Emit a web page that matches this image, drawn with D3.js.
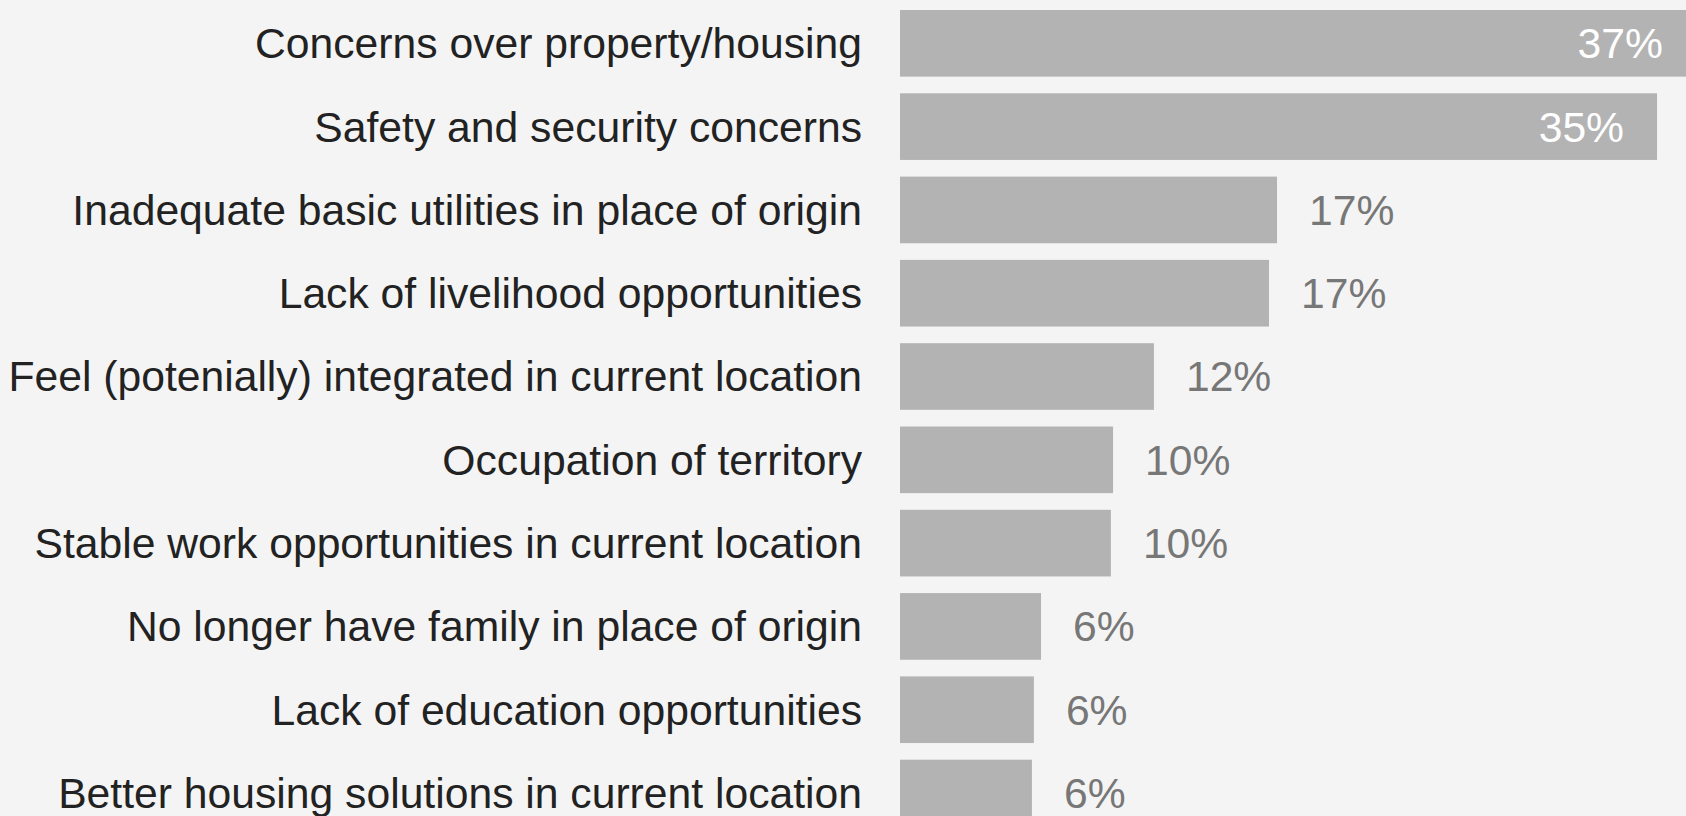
<!DOCTYPE html>
<html><head><meta charset="utf-8">
<script src="https://cdn.jsdelivr.net/npm/d3@7"></script>
<style>
html,body{margin:0;padding:0;background:#f4f4f4;overflow:hidden;}
svg{display:block;}
</style></head>
<body>
<svg id="chart" width="1686" height="816"></svg>
<script>
const categories = [
  "Concerns over property/housing",
  "Safety and security concerns",
  "Inadequate basic utilities in place of origin",
  "Lack of livelihood opportunities",
  "Feel (potenially) integrated in current location",
  "Occupation of territory",
  "Stable work opportunities in current location",
  "No longer have family in place of origin",
  "Lack of education opportunities",
  "Better housing solutions in current location"
];
const values = [36.8, 35, 17.43, 17.06, 11.74, 9.85, 9.75, 6.52, 6.19, 6.10];
const valueLabels = ["37%", "35%", "17%", "17%", "12%", "10%", "10%", "6%", "6%", "6%"];

const W = 1686, H = 816;
const svg = d3.select("#chart");
svg.append("rect").attr("width", W).attr("height", H).attr("fill", "#f4f4f4");

const x = d3.scaleLinear().domain([0, 40]).range([900, 900 + 40 * 21.63]);
const y = d3.scaleBand().domain(categories).range([1.67, 1.67 + 833]).paddingInner(0.2).paddingOuter(0.1);

const data = categories.map((c, i) => ({c, v: values[i], l: valueLabels[i]}));
const font = "'Liberation Sans', Arial, sans-serif";
const fs = 42.67;

svg.selectAll("rect.bar").data(data).enter().append("rect")
  .attr("class", "bar")
  .attr("x", x(0))
  .attr("y", d => y(d.c))
  .attr("width", d => x(d.v) - x(0))
  .attr("height", y.bandwidth())
  .attr("fill", "#b3b3b3");

svg.selectAll("text.cat").data(data).enter().append("text")
  .attr("class", "cat")
  .attr("x", 862)
  .attr("y", d => y(d.c) + y.bandwidth() / 2)
  .attr("dy", "0.35em")
  .attr("text-anchor", "end")
  .attr("font-family", font)
  .attr("font-size", fs)
  .attr("fill", "#222222")
  .text(d => d.c);

svg.selectAll("text.val").data(data).enter().append("text")
  .attr("class", "val")
  .attr("x", d => d.v >= 30 ? x(d.v) - 33 : x(d.v) + 32)
  .attr("y", d => y(d.c) + y.bandwidth() / 2)
  .attr("dy", "0.35em")
  .attr("text-anchor", d => d.v >= 30 ? "end" : "start")
  .attr("font-family", font)
  .attr("font-size", fs)
  .attr("fill", d => d.v >= 30 ? "#ffffff" : "#777777")
  .text(d => d.l);
</script>
</body></html>
